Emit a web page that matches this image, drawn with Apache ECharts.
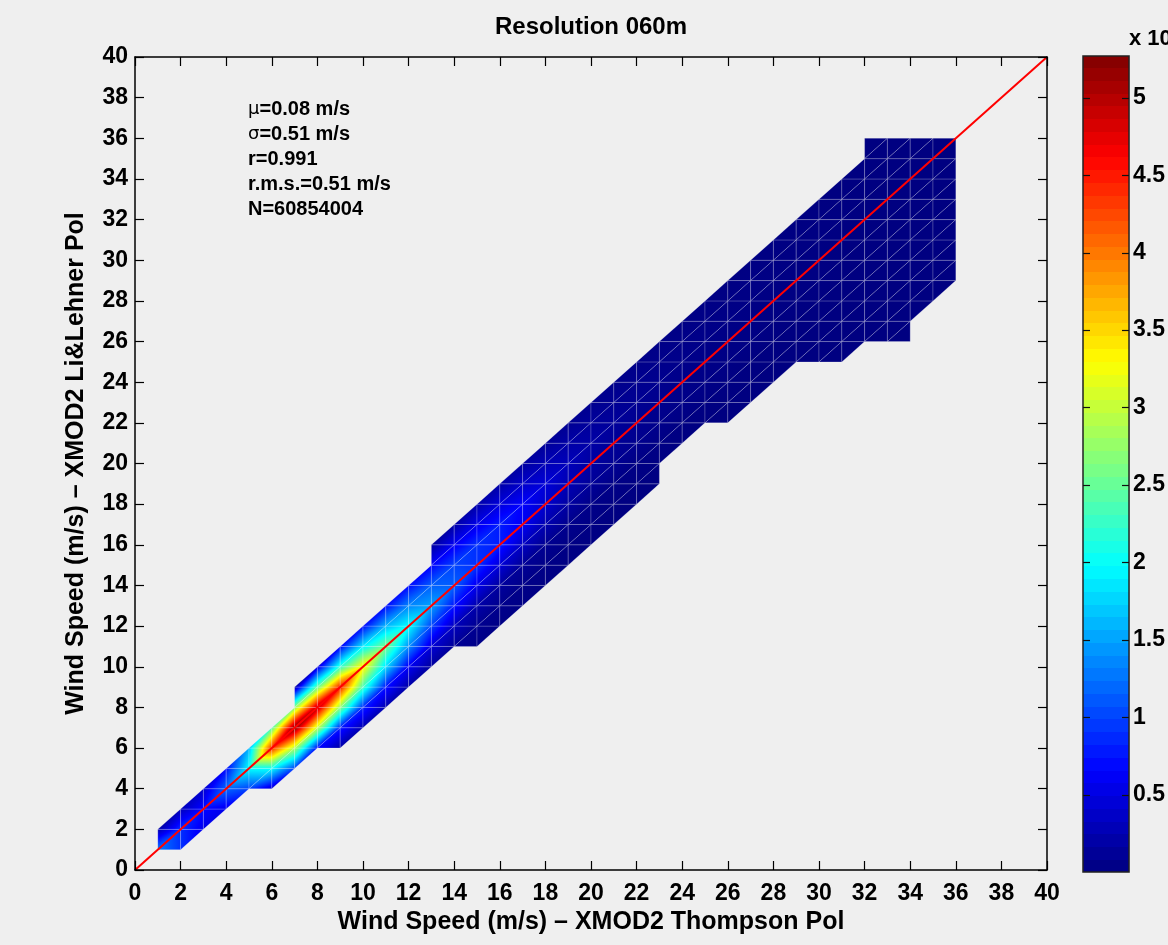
<!DOCTYPE html>
<html>
<head>
<meta charset="utf-8">
<title>Resolution 060m</title>
<script src="https://cdn.jsdelivr.net/npm/echarts@6/dist/echarts.min.js"></script>
<style>
  html, body { margin: 0; padding: 0; background: #efefef; }
  #main { width: 1168px; height: 945px; }
</style>
</head>
<body>
<div id="main"></div>
<script>
// wind speed nodes (m/s) along the Thompson axis
const windX = [1, 2, 3, 4, 5, 6, 7, 8, 9, 10, 11, 12, 13, 14, 15, 16, 17, 18,
               19, 20, 21, 22, 23, 24, 25, 26, 27, 28, 29, 30, 31, 32, 33, 34, 35, 36];

// counts (x 10^6) at node (x, x + k), one array per diagonal offset k; null = no data
const bandP4 = [null, null, null, null, null, null, null, null, null, null, null, null, null, null, null, null, null, null,
                null, null, null, null, null, null, null, null, null, null, null, null, null, 0.01, null, null, null, null];
const bandP3 = [null, null, null, null, null, null, null, null, null, null, null, null, 0.15, 0.20, 0.22, 0.20, 0.17, 0.13,
                0.10, 0.08, 0.06, 0.05, 0.04, 0.03, 0.03, 0.02, 0.02, 0.02, 0.01, 0.01, 0.01, 0.01, 0.01, null, null, null];
const bandP2 = [null, null, null, null, null, null, 0.15, 0.45, 0.65, 0.70, 0.70, 0.70, 0.65, 0.60, 0.55, 0.48, 0.38, 0.28,
                0.20, 0.14, 0.10, 0.08, 0.06, 0.05, 0.04, 0.03, 0.03, 0.02, 0.02, 0.02, 0.01, 0.01, 0.01, 0.01, null, null];
const bandP1 = [0.20, 0.30, 0.40, 0.70, 1.60, 2.40, 2.70, 2.50, 2.20, 1.90, 1.60, 1.35, 1.15, 1.00, 0.90, 0.80, 0.65, 0.45,
                0.30, 0.20, 0.14, 0.10, 0.08, 0.06, 0.05, 0.04, 0.03, 0.03, 0.02, 0.02, 0.02, 0.01, 0.01, 0.01, 0.01, null];
const band0  = [1.30, 0.90, 0.70, 1.20, 2.00, 4.40, 5.27, 5.00, 4.50, 3.40, 2.60, 2.00, 1.50, 1.15, 0.90, 0.80, 0.60, 0.40,
                0.27, 0.18, 0.12, 0.09, 0.07, 0.05, 0.04, 0.03, 0.03, 0.02, 0.02, 0.02, 0.01, 0.01, 0.01, 0.01, 0.01, 0.01];
const bandM1 = [null, 0.90, 0.55, 0.55, 1.00, 2.00, 2.90, 3.00, 2.70, 2.30, 1.80, 1.40, 1.00, 0.75, 0.55, 0.45, 0.35, 0.25,
                0.18, 0.13, 0.10, 0.08, 0.06, 0.05, 0.04, 0.03, 0.03, 0.02, 0.02, 0.02, 0.01, 0.01, 0.01, 0.01, 0.01, 0.01];
const bandM2 = [null, null, null, null, null, 0.40, 1.00, 0.70, 0.80, 0.85, 0.75, 0.60, 0.45, 0.32, 0.22, 0.16, 0.12, 0.09,
                0.07, 0.05, 0.04, 0.03, 0.03, 0.02, 0.02, 0.02, 0.01, 0.01, 0.01, 0.01, 0.01, 0.01, 0.01, 0.01, 0.01, 0.01];
const bandM3 = [null, null, null, null, null, null, null, null, 0.20, 0.25, 0.25, 0.20, 0.15, 0.12, 0.09, 0.07, 0.05, 0.04,
                0.03, 0.03, 0.02, 0.02, 0.02, 0.01, 0.01, 0.01, 0.01, 0.01, 0.01, 0.01, 0.01, 0.01, 0.01, 0.01, 0.01, 0.01];
const bandM4 = [null, null, null, null, null, null, null, null, null, null, null, null, null, null, 0.04, 0.03, 0.03, 0.02,
                0.02, 0.02, 0.01, 0.01, 0.01, null, null, 0.01, 0.01, 0.01, 0.01, 0.01, 0.01, 0.01, 0.01, 0.01, 0.01, 0.01];
const bandM5 = [null, null, null, null, null, null, null, null, null, null, null, null, null, null, null, null, null, null,
                null, null, null, null, null, null, null, null, null, null, null, 0.01, 0.01, 0.01, 0.01, 0.01, 0.01, 0.01];
const bandM6 = [null, null, null, null, null, null, null, null, null, null, null, null, null, null, null, null, null, null,
                null, null, null, null, null, null, null, null, null, null, null, null, 0.01, 0.01, 0.01, 0.01, 0.01, 0.01];
const bandM7 = [null, null, null, null, null, null, null, null, null, null, null, null, null, null, null, null, null, null,
                null, null, null, null, null, null, null, null, null, null, null, null, null, null, 0.01, 0.01, 0.01, 0.01];
const bandM8 = [null, null, null, null, null, null, null, null, null, null, null, null, null, null, null, null, null, null,
                null, null, null, null, null, null, null, null, null, null, null, null, null, null, null, 0.01, null, null];

const bands = [[4, bandP4], [3, bandP3], [2, bandP2], [1, bandP1], [0, band0], [-1, bandM1],
               [-2, bandM2], [-3, bandM3], [-4, bandM4], [-5, bandM5], [-6, bandM6], [-7, bandM7], [-8, bandM8]];

const oneToOne = [[0, 0], [40, 40]];
const colorTicks = [0.5, 1, 1.5, 2, 2.5, 3, 3.5, 4, 4.5, 5];
const statLines = [['μ', '=0.08 m/s'], ['σ', '=0.51 m/s'], ['', 'r=0.991'], ['', 'r.m.s.=0.51 m/s'], ['', 'N=60854004']];

const FONT = '"Liberation Sans", Arial, Helvetica, sans-serif';

// node lookup
const nodes = {};
let colorMax = 0;
bands.forEach(function ([k, arr]) {
    arr.forEach(function (v, i) {
        if (v === null) return;
        const x = windX[i];
        nodes[x + ',' + (x + k)] = v;
        colorMax = Math.max(colorMax, v);
    });
});

// triangulated mesh (diagonal from lower-left to upper-right)
const triangles = [];
function node(x, y) { return nodes[x + ',' + y]; }
for (let x = 1; x < 36; x++) {
    for (let y = 1; y < 36; y++) {
        const a = node(x, y), b = node(x, y + 1), c = node(x + 1, y + 1), d = node(x + 1, y);
        if (a !== undefined && b !== undefined && c !== undefined) {
            triangles.push([x, y, a, x, y + 1, b, x + 1, y + 1, c]);
        }
        if (a !== undefined && d !== undefined && c !== undefined) {
            triangles.push([x, y, a, x + 1, y, d, x + 1, y + 1, c]);
        }
    }
}

function clamp(v) { return Math.max(0, Math.min(1, v)); }
function jet(f) {
    const r = clamp(1.5 - Math.abs(4 * f - 3));
    const g = clamp(1.5 - Math.abs(4 * f - 2));
    const b = clamp(1.5 - Math.abs(4 * f - 1));
    return 'rgb(' + Math.round(r * 255) + ',' + Math.round(g * 255) + ',' + Math.round(b * 255) + ')';
}

// linear shading over a triangle = a linear gradient along the plane's slope
function planeFill(pts, vals) {
    const [p1, p2, p3] = pts;
    const d1x = p2[0] - p1[0], d1y = p2[1] - p1[1];
    const d2x = p3[0] - p1[0], d2y = p3[1] - p1[1];
    const dv1 = vals[1] - vals[0], dv2 = vals[2] - vals[0];
    const det = d1x * d2y - d1y * d2x;
    const vMin = Math.min.apply(null, vals), vMax = Math.max.apply(null, vals);
    if (Math.abs(det) < 1e-9 || vMax - vMin < 1e-6) {
        return jet(vals[0] / colorMax);
    }
    const a = (dv1 * d2y - d1y * dv2) / det;
    const b = (d1x * dv2 - dv1 * d2x) / det;
    const g2 = a * a + b * b;
    const sx = p1[0] + (vMin - vals[0]) * a / g2, sy = p1[1] + (vMin - vals[0]) * b / g2;
    const ex = p1[0] + (vMax - vals[0]) * a / g2, ey = p1[1] + (vMax - vals[0]) * b / g2;
    const f0 = vMin / colorMax, f1 = vMax / colorMax;
    const fs = [f0];
    [1 / 8, 3 / 8, 5 / 8, 7 / 8].forEach(function (bp) { if (bp > f0 && bp < f1) fs.push(bp); });
    fs.push(f1);
    const stops = fs.map(function (f) { return { offset: (f - f0) / (f1 - f0), color: jet(f) }; });
    return new echarts.graphic.LinearGradient(sx, sy, ex, ey, stops, true);
}

function renderTriangle(params, api) {
    const pts = [0, 1, 2].map(function (i) {
        return api.coord([api.value(i * 3), api.value(i * 3 + 1)]);
    });
    const vals = [api.value(2), api.value(5), api.value(8)];
    return {
        type: 'polygon',
        shape: { points: pts },
        style: { fill: planeFill(pts, vals), stroke: 'rgba(255,255,255,0.24)', lineWidth: 0.8 }
    };
}

function renderColorbar(params, api) {
    const cs = params.coordSys;
    const top = api.coord([0, api.value(1)])[1];
    const bottom = api.coord([0, api.value(0)])[1];
    const stops = [];
    const n = 64;
    for (let i = 0; i < n; i++) {
        const c = jet((i + 0.5) / n);
        stops.push({ offset: i / n, color: c });
        stops.push({ offset: (i + 1) / n, color: c });
    }
    const children = [{
        type: 'rect',
        shape: { x: cs.x, y: top, width: cs.width, height: bottom - top },
        style: {
            fill: new echarts.graphic.LinearGradient(0, 1, 0, 0, stops),
            stroke: '#222', lineWidth: 1.5
        }
    }];
    // inward ticks on both edges of the colour bar
    colorTicks.forEach(function (t) {
        const y = Math.round(api.coord([0, t])[1]) + 0.5;
        children.push({ type: 'line', shape: { x1: cs.x, y1: y, x2: cs.x + 7, y2: y },
                        style: { stroke: '#111', lineWidth: 1.2 } });
        children.push({ type: 'line', shape: { x1: cs.x + cs.width - 7, y1: y, x2: cs.x + cs.width, y2: y },
                        style: { stroke: '#111', lineWidth: 1.2 } });
    });
    return { type: 'group', children: children };
}

const chart = echarts.init(document.getElementById('main'));

const tickLabel = { fontFamily: FONT, fontWeight: 'bold', fontSize: 23, color: '#000' };
const frameLine = { show: true, onZero: false, lineStyle: { color: '#000', width: 1.5 } };
const innerTick = { show: true, inside: true, length: 9, lineStyle: { color: '#000', width: 1.2 } };

function mainAxis(extra) {
    return Object.assign({
        type: 'value', min: 0, max: 40, interval: 2, gridIndex: 0, z: 10,
        axisLine: frameLine, axisTick: innerTick, splitLine: { show: false },
        axisLabel: { show: false }
    }, extra);
}

chart.setOption({
    animation: false,
    backgroundColor: '#efefef',
    grid: [
        { left: 135, right: 121, top: 57, bottom: 75 },
        { left: 1083, width: 49, top: 56, bottom: 73 }
    ],
    xAxis: [
        mainAxis({
            position: 'bottom',
            axisLabel: Object.assign({ show: true, margin: 12 }, tickLabel),
            name: 'Wind Speed (m/s) – XMOD2 Thompson Pol',
            nameLocation: 'middle', nameGap: 38,
            nameTextStyle: { fontFamily: FONT, fontWeight: 'bold', fontSize: 25, color: '#000' }
        }),
        mainAxis({ position: 'top' }),
        { type: 'value', gridIndex: 1, min: 0, max: 1, show: false }
    ],
    yAxis: [
        mainAxis({
            position: 'left',
            axisLabel: Object.assign({ show: true, margin: 7 }, tickLabel),
            name: 'Wind Speed (m/s) – XMOD2 Li&Lehner Pol',
            nameLocation: 'middle', nameGap: 46,
            nameTextStyle: { fontFamily: FONT, fontWeight: 'bold', fontSize: 25, color: '#000' }
        }),
        mainAxis({ position: 'right' }),
        {
            type: 'value', min: 0, max: colorMax, interval: 0.5, gridIndex: 1, position: 'right',
            axisLine: { show: false, onZero: false }, axisTick: { show: false }, splitLine: { show: false },
            axisLabel: Object.assign({
                show: true, margin: 4,
                formatter: function (v) {
                    return colorTicks.indexOf(Math.round(v * 100) / 100) >= 0 ? String(v) : '';
                }
            }, tickLabel)
        }
    ],
    graphic: [
        {
            type: 'text', x: 591, y: 27,
            style: {
                text: 'Resolution 060m', align: 'center', verticalAlign: 'middle',
                font: 'bold 24px ' + FONT, fill: '#000'
            }
        },
        {
            type: 'text', x: 1129, y: 39,
            style: {
                text: '{a|x 10}{s|6}', verticalAlign: 'middle',
                rich: {
                    a: { fontFamily: FONT, fontWeight: 'bold', fontSize: 22, color: '#000' },
                    s: { fontFamily: FONT, fontWeight: 'bold', fontSize: 15, color: '#000', verticalAlign: 'top' }
                }
            }
        },
        {
            type: 'text', x: 248, y: 97,
            style: {
                text: statLines.map(function (l) { return (l[0] ? '{g|' + l[0] + '}' : '') + '{b|' + l[1] + '}'; }).join('\n'),
                rich: {
                    g: { fontFamily: '"DejaVu Sans", sans-serif', fontSize: 18, color: '#000', lineHeight: 25 },
                    b: { fontFamily: FONT, fontWeight: 'bold', fontSize: 20, color: '#000', lineHeight: 25 }
                }
            }
        }
    ],
    series: [
        {
            type: 'custom', xAxisIndex: 0, yAxisIndex: 0,
            renderItem: renderTriangle,
            data: triangles, silent: true, z: 1
        },
        {
            type: 'line', xAxisIndex: 0, yAxisIndex: 0,
            data: oneToOne, symbol: 'none', silent: true, z: 3,
            lineStyle: { color: '#ff0000', width: 2 }
        },
        {
            type: 'custom', xAxisIndex: 2, yAxisIndex: 2,
            renderItem: renderColorbar,
            data: [[0, colorMax]], silent: true, z: 1
        }
    ]
});
</script>
</body>
</html>
